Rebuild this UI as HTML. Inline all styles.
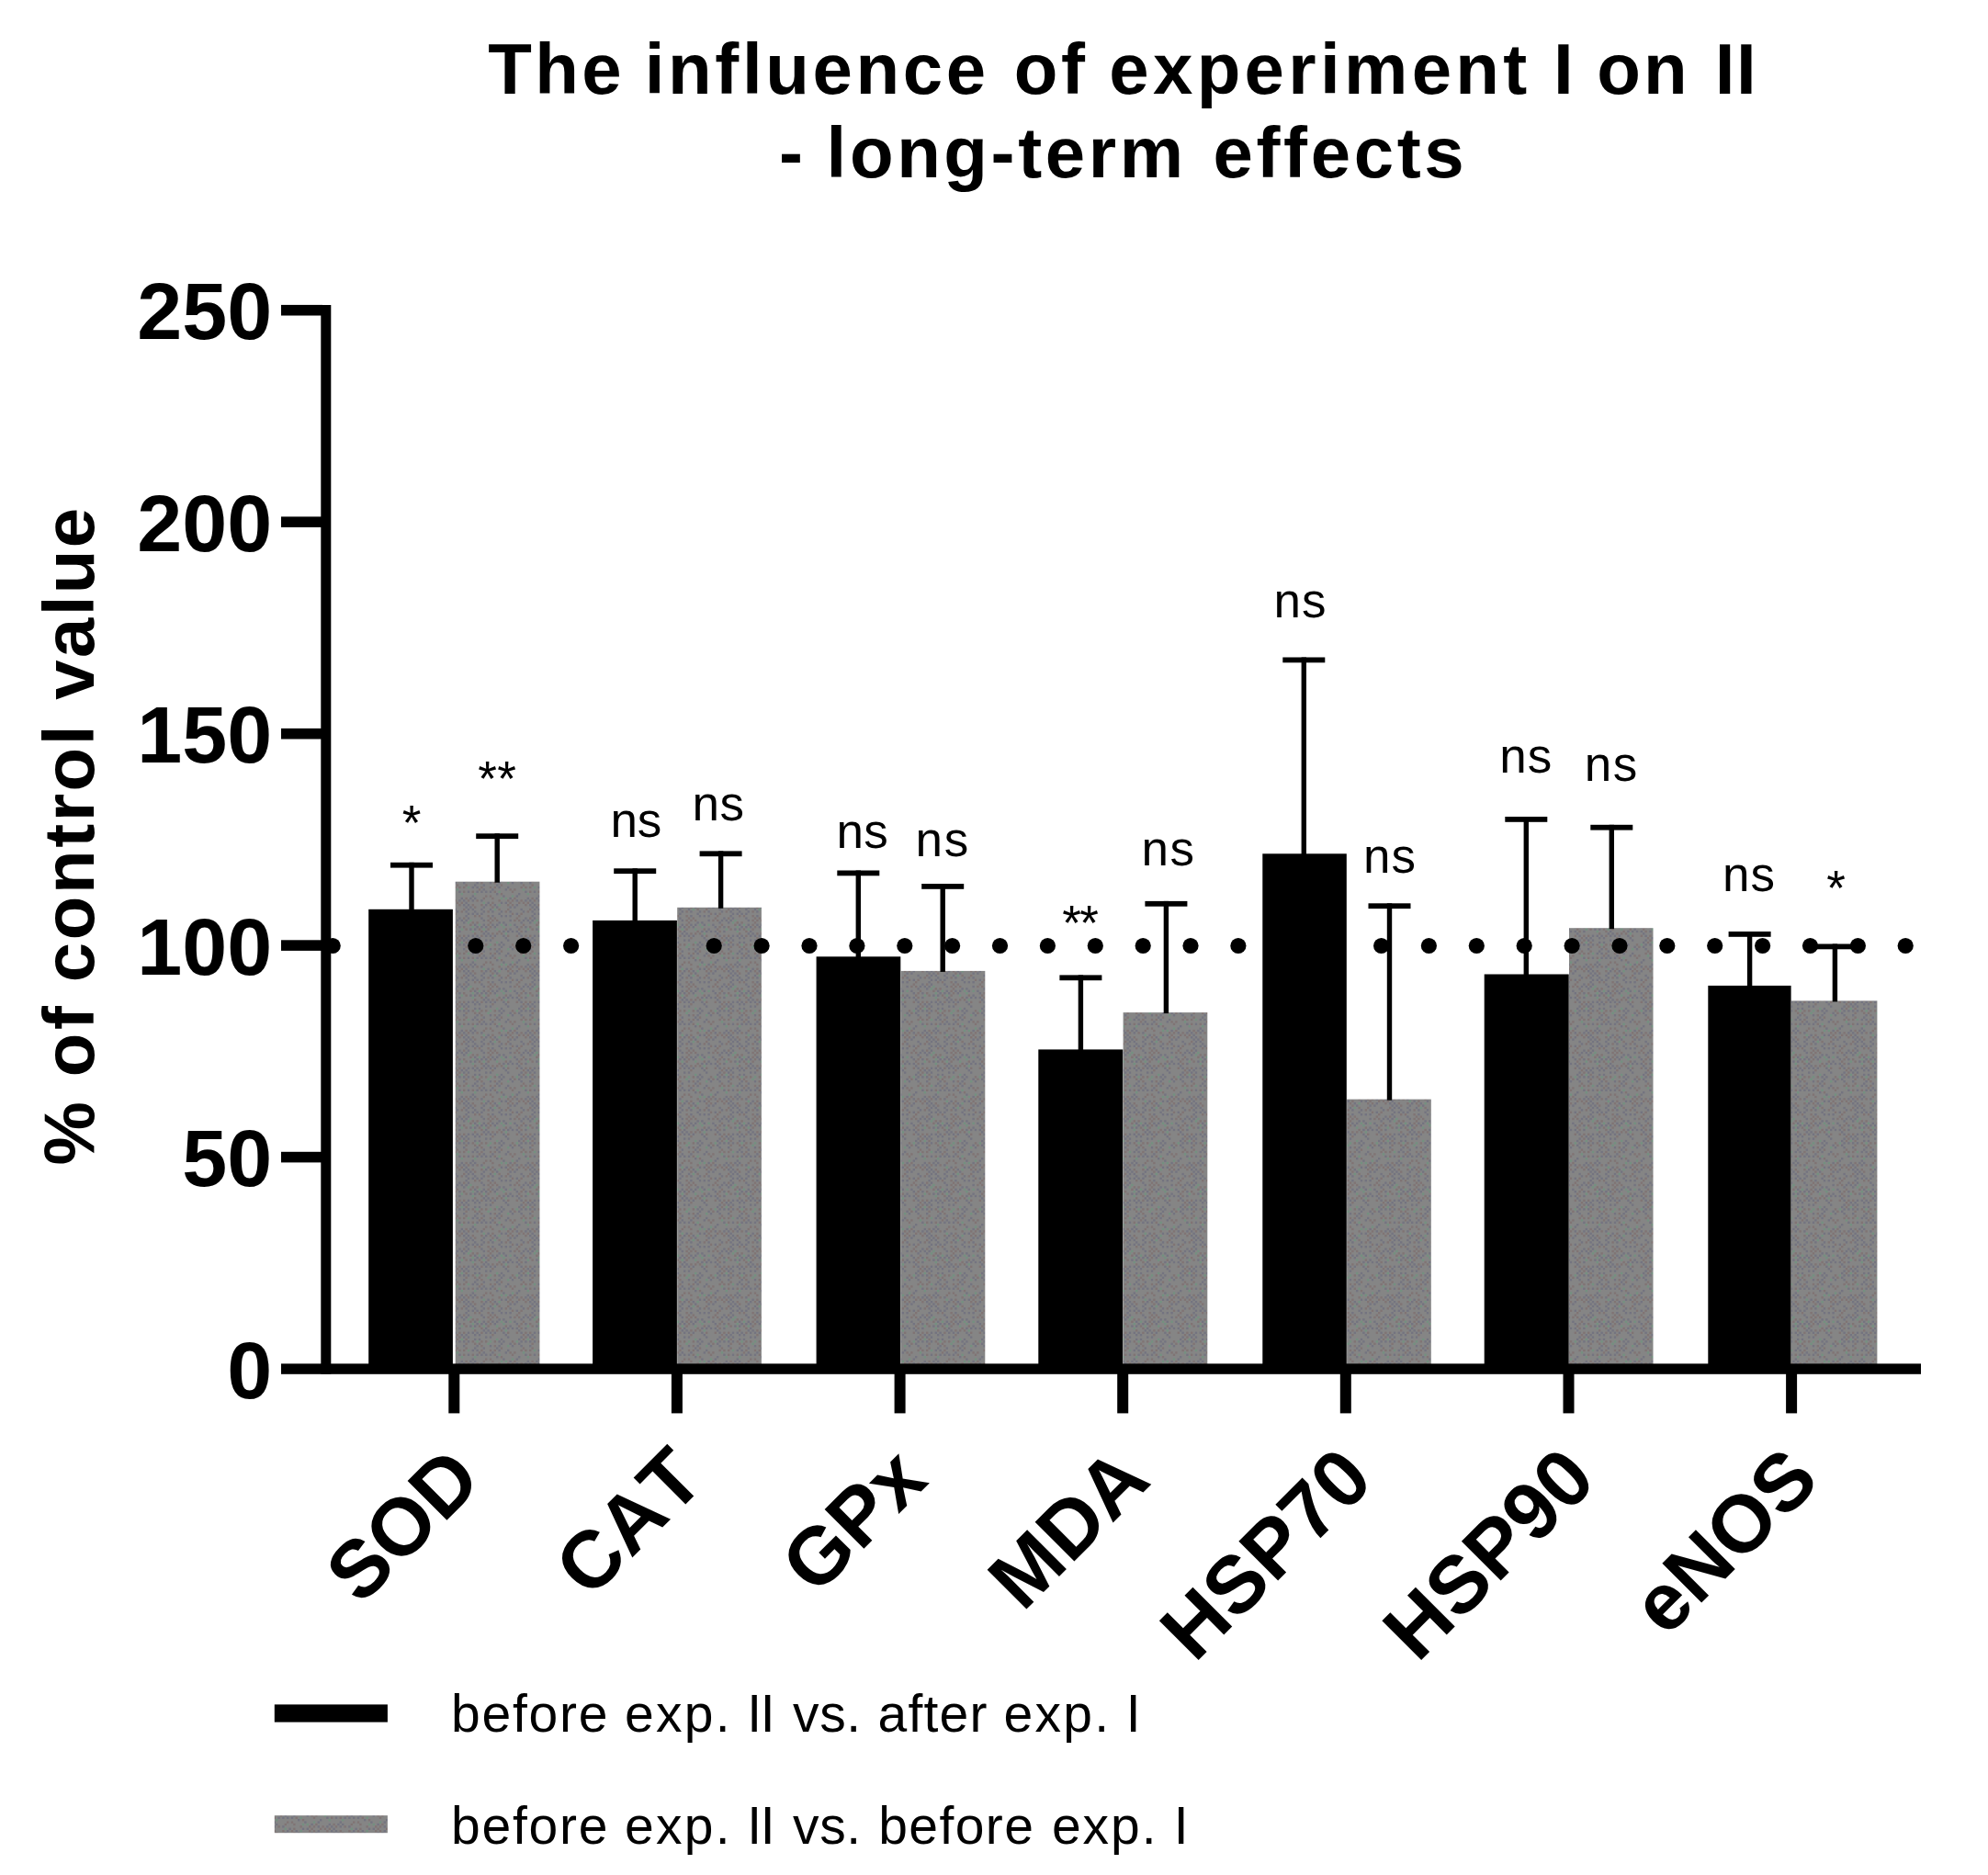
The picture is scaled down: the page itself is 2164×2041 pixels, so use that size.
<!DOCTYPE html>
<html lang="en"><head><meta charset="utf-8"><title>The influence of experiment I on II - long-term effects</title>
<style>
html,body{margin:0;padding:0;background:#fff;}
body{width:2164px;height:2041px;overflow:hidden;}
svg{display:block}
text{font-family:'Liberation Sans', Arial, Helvetica, sans-serif;fill:#000;white-space:pre;font-kerning:none}
.b{font-weight:bold}
</style></head><body>
<svg width="2164" height="2041" viewBox="0 0 2164 2041">
<rect width="2164" height="2041" fill="#fff"/>
<defs><pattern id="dg" patternUnits="userSpaceOnUse" width="72.0" height="72.0"><rect width="72.0" height="72.0" fill="#858585"/><rect x="0.0" y="0.0" width="2.4" height="2.4" fill="#807474"/><rect x="9.6" y="0.0" width="2.4" height="2.4" fill="#749080"/><rect x="14.4" y="0.0" width="2.4" height="2.4" fill="#747480"/><rect x="19.2" y="0.0" width="2.4" height="2.4" fill="#747480"/><rect x="24.0" y="0.0" width="2.4" height="2.4" fill="#747480"/><rect x="28.8" y="0.0" width="2.4" height="2.4" fill="#807474"/><rect x="33.6" y="0.0" width="2.4" height="2.4" fill="#747480"/><rect x="43.2" y="0.0" width="2.4" height="2.4" fill="#749080"/><rect x="57.6" y="0.0" width="2.4" height="2.4" fill="#747480"/><rect x="62.4" y="0.0" width="2.4" height="2.4" fill="#807474"/><rect x="67.2" y="0.0" width="2.4" height="2.4" fill="#747480"/><rect x="2.4" y="2.4" width="2.4" height="2.4" fill="#807474"/><rect x="7.2" y="2.4" width="2.4" height="2.4" fill="#747480"/><rect x="12.0" y="2.4" width="2.4" height="2.4" fill="#747480"/><rect x="16.8" y="2.4" width="2.4" height="2.4" fill="#807474"/><rect x="21.6" y="2.4" width="2.4" height="2.4" fill="#749080"/><rect x="26.4" y="2.4" width="2.4" height="2.4" fill="#807474"/><rect x="36.0" y="2.4" width="2.4" height="2.4" fill="#749080"/><rect x="45.6" y="2.4" width="2.4" height="2.4" fill="#807474"/><rect x="50.4" y="2.4" width="2.4" height="2.4" fill="#747480"/><rect x="60.0" y="2.4" width="2.4" height="2.4" fill="#807474"/><rect x="69.6" y="2.4" width="2.4" height="2.4" fill="#749080"/><rect x="9.6" y="4.8" width="2.4" height="2.4" fill="#749080"/><rect x="19.2" y="4.8" width="2.4" height="2.4" fill="#807474"/><rect x="24.0" y="4.8" width="2.4" height="2.4" fill="#747480"/><rect x="38.4" y="4.8" width="2.4" height="2.4" fill="#807474"/><rect x="43.2" y="4.8" width="2.4" height="2.4" fill="#747480"/><rect x="48.0" y="4.8" width="2.4" height="2.4" fill="#747480"/><rect x="52.8" y="4.8" width="2.4" height="2.4" fill="#747480"/><rect x="57.6" y="4.8" width="2.4" height="2.4" fill="#747480"/><rect x="62.4" y="4.8" width="2.4" height="2.4" fill="#807474"/><rect x="67.2" y="4.8" width="2.4" height="2.4" fill="#747480"/><rect x="12.0" y="7.2" width="2.4" height="2.4" fill="#807474"/><rect x="21.6" y="7.2" width="2.4" height="2.4" fill="#747480"/><rect x="26.4" y="7.2" width="2.4" height="2.4" fill="#747480"/><rect x="31.2" y="7.2" width="2.4" height="2.4" fill="#807474"/><rect x="36.0" y="7.2" width="2.4" height="2.4" fill="#807474"/><rect x="40.8" y="7.2" width="2.4" height="2.4" fill="#807474"/><rect x="45.6" y="7.2" width="2.4" height="2.4" fill="#749080"/><rect x="60.0" y="7.2" width="2.4" height="2.4" fill="#747480"/><rect x="0.0" y="9.6" width="2.4" height="2.4" fill="#807474"/><rect x="4.8" y="9.6" width="2.4" height="2.4" fill="#747480"/><rect x="9.6" y="9.6" width="2.4" height="2.4" fill="#747480"/><rect x="14.4" y="9.6" width="2.4" height="2.4" fill="#747480"/><rect x="19.2" y="9.6" width="2.4" height="2.4" fill="#807474"/><rect x="24.0" y="9.6" width="2.4" height="2.4" fill="#747480"/><rect x="28.8" y="9.6" width="2.4" height="2.4" fill="#747480"/><rect x="33.6" y="9.6" width="2.4" height="2.4" fill="#747480"/><rect x="43.2" y="9.6" width="2.4" height="2.4" fill="#747480"/><rect x="48.0" y="9.6" width="2.4" height="2.4" fill="#807474"/><rect x="57.6" y="9.6" width="2.4" height="2.4" fill="#807474"/><rect x="62.4" y="9.6" width="2.4" height="2.4" fill="#747480"/><rect x="67.2" y="9.6" width="2.4" height="2.4" fill="#807474"/><rect x="2.4" y="12.0" width="2.4" height="2.4" fill="#747480"/><rect x="12.0" y="12.0" width="2.4" height="2.4" fill="#747480"/><rect x="16.8" y="12.0" width="2.4" height="2.4" fill="#747480"/><rect x="31.2" y="12.0" width="2.4" height="2.4" fill="#807474"/><rect x="45.6" y="12.0" width="2.4" height="2.4" fill="#747480"/><rect x="64.8" y="12.0" width="2.4" height="2.4" fill="#807474"/><rect x="69.6" y="12.0" width="2.4" height="2.4" fill="#747480"/><rect x="0.0" y="14.4" width="2.4" height="2.4" fill="#747480"/><rect x="4.8" y="14.4" width="2.4" height="2.4" fill="#747480"/><rect x="24.0" y="14.4" width="2.4" height="2.4" fill="#747480"/><rect x="28.8" y="14.4" width="2.4" height="2.4" fill="#747480"/><rect x="48.0" y="14.4" width="2.4" height="2.4" fill="#747480"/><rect x="62.4" y="14.4" width="2.4" height="2.4" fill="#747480"/><rect x="67.2" y="14.4" width="2.4" height="2.4" fill="#807474"/><rect x="2.4" y="16.8" width="2.4" height="2.4" fill="#807474"/><rect x="12.0" y="16.8" width="2.4" height="2.4" fill="#747480"/><rect x="16.8" y="16.8" width="2.4" height="2.4" fill="#747480"/><rect x="36.0" y="16.8" width="2.4" height="2.4" fill="#749080"/><rect x="40.8" y="16.8" width="2.4" height="2.4" fill="#747480"/><rect x="60.0" y="16.8" width="2.4" height="2.4" fill="#747480"/><rect x="64.8" y="16.8" width="2.4" height="2.4" fill="#807474"/><rect x="69.6" y="16.8" width="2.4" height="2.4" fill="#749080"/><rect x="0.0" y="19.2" width="2.4" height="2.4" fill="#747480"/><rect x="4.8" y="19.2" width="2.4" height="2.4" fill="#747480"/><rect x="9.6" y="19.2" width="2.4" height="2.4" fill="#807474"/><rect x="14.4" y="19.2" width="2.4" height="2.4" fill="#749080"/><rect x="19.2" y="19.2" width="2.4" height="2.4" fill="#807474"/><rect x="24.0" y="19.2" width="2.4" height="2.4" fill="#807474"/><rect x="28.8" y="19.2" width="2.4" height="2.4" fill="#749080"/><rect x="33.6" y="19.2" width="2.4" height="2.4" fill="#807474"/><rect x="38.4" y="19.2" width="2.4" height="2.4" fill="#747480"/><rect x="43.2" y="19.2" width="2.4" height="2.4" fill="#747480"/><rect x="52.8" y="19.2" width="2.4" height="2.4" fill="#807474"/><rect x="57.6" y="19.2" width="2.4" height="2.4" fill="#749080"/><rect x="62.4" y="19.2" width="2.4" height="2.4" fill="#747480"/><rect x="67.2" y="19.2" width="2.4" height="2.4" fill="#747480"/><rect x="2.4" y="21.6" width="2.4" height="2.4" fill="#807474"/><rect x="12.0" y="21.6" width="2.4" height="2.4" fill="#807474"/><rect x="16.8" y="21.6" width="2.4" height="2.4" fill="#807474"/><rect x="26.4" y="21.6" width="2.4" height="2.4" fill="#749080"/><rect x="40.8" y="21.6" width="2.4" height="2.4" fill="#747480"/><rect x="50.4" y="21.6" width="2.4" height="2.4" fill="#747480"/><rect x="55.2" y="21.6" width="2.4" height="2.4" fill="#807474"/><rect x="60.0" y="21.6" width="2.4" height="2.4" fill="#747480"/><rect x="0.0" y="24.0" width="2.4" height="2.4" fill="#747480"/><rect x="14.4" y="24.0" width="2.4" height="2.4" fill="#747480"/><rect x="19.2" y="24.0" width="2.4" height="2.4" fill="#807474"/><rect x="28.8" y="24.0" width="2.4" height="2.4" fill="#747480"/><rect x="33.6" y="24.0" width="2.4" height="2.4" fill="#807474"/><rect x="38.4" y="24.0" width="2.4" height="2.4" fill="#747480"/><rect x="48.0" y="24.0" width="2.4" height="2.4" fill="#749080"/><rect x="52.8" y="24.0" width="2.4" height="2.4" fill="#747480"/><rect x="62.4" y="24.0" width="2.4" height="2.4" fill="#747480"/><rect x="2.4" y="26.4" width="2.4" height="2.4" fill="#807474"/><rect x="12.0" y="26.4" width="2.4" height="2.4" fill="#747480"/><rect x="21.6" y="26.4" width="2.4" height="2.4" fill="#747480"/><rect x="36.0" y="26.4" width="2.4" height="2.4" fill="#747480"/><rect x="40.8" y="26.4" width="2.4" height="2.4" fill="#807474"/><rect x="64.8" y="26.4" width="2.4" height="2.4" fill="#807474"/><rect x="0.0" y="28.8" width="2.4" height="2.4" fill="#807474"/><rect x="4.8" y="28.8" width="2.4" height="2.4" fill="#749080"/><rect x="9.6" y="28.8" width="2.4" height="2.4" fill="#747480"/><rect x="14.4" y="28.8" width="2.4" height="2.4" fill="#747480"/><rect x="19.2" y="28.8" width="2.4" height="2.4" fill="#807474"/><rect x="28.8" y="28.8" width="2.4" height="2.4" fill="#807474"/><rect x="33.6" y="28.8" width="2.4" height="2.4" fill="#807474"/><rect x="38.4" y="28.8" width="2.4" height="2.4" fill="#747480"/><rect x="48.0" y="28.8" width="2.4" height="2.4" fill="#747480"/><rect x="62.4" y="28.8" width="2.4" height="2.4" fill="#807474"/><rect x="67.2" y="28.8" width="2.4" height="2.4" fill="#807474"/><rect x="16.8" y="31.2" width="2.4" height="2.4" fill="#807474"/><rect x="21.6" y="31.2" width="2.4" height="2.4" fill="#747480"/><rect x="31.2" y="31.2" width="2.4" height="2.4" fill="#747480"/><rect x="45.6" y="31.2" width="2.4" height="2.4" fill="#747480"/><rect x="50.4" y="31.2" width="2.4" height="2.4" fill="#807474"/><rect x="55.2" y="31.2" width="2.4" height="2.4" fill="#807474"/><rect x="64.8" y="31.2" width="2.4" height="2.4" fill="#749080"/><rect x="0.0" y="33.6" width="2.4" height="2.4" fill="#807474"/><rect x="4.8" y="33.6" width="2.4" height="2.4" fill="#747480"/><rect x="9.6" y="33.6" width="2.4" height="2.4" fill="#807474"/><rect x="14.4" y="33.6" width="2.4" height="2.4" fill="#747480"/><rect x="19.2" y="33.6" width="2.4" height="2.4" fill="#747480"/><rect x="24.0" y="33.6" width="2.4" height="2.4" fill="#747480"/><rect x="28.8" y="33.6" width="2.4" height="2.4" fill="#747480"/><rect x="33.6" y="33.6" width="2.4" height="2.4" fill="#807474"/><rect x="38.4" y="33.6" width="2.4" height="2.4" fill="#749080"/><rect x="52.8" y="33.6" width="2.4" height="2.4" fill="#807474"/><rect x="67.2" y="33.6" width="2.4" height="2.4" fill="#747480"/><rect x="12.0" y="36.0" width="2.4" height="2.4" fill="#749080"/><rect x="36.0" y="36.0" width="2.4" height="2.4" fill="#747480"/><rect x="40.8" y="36.0" width="2.4" height="2.4" fill="#807474"/><rect x="60.0" y="36.0" width="2.4" height="2.4" fill="#747480"/><rect x="69.6" y="36.0" width="2.4" height="2.4" fill="#749080"/><rect x="9.6" y="38.4" width="2.4" height="2.4" fill="#747480"/><rect x="24.0" y="38.4" width="2.4" height="2.4" fill="#807474"/><rect x="28.8" y="38.4" width="2.4" height="2.4" fill="#807474"/><rect x="43.2" y="38.4" width="2.4" height="2.4" fill="#747480"/><rect x="52.8" y="38.4" width="2.4" height="2.4" fill="#749080"/><rect x="57.6" y="38.4" width="2.4" height="2.4" fill="#747480"/><rect x="2.4" y="40.8" width="2.4" height="2.4" fill="#807474"/><rect x="7.2" y="40.8" width="2.4" height="2.4" fill="#747480"/><rect x="12.0" y="40.8" width="2.4" height="2.4" fill="#747480"/><rect x="21.6" y="40.8" width="2.4" height="2.4" fill="#807474"/><rect x="31.2" y="40.8" width="2.4" height="2.4" fill="#807474"/><rect x="40.8" y="40.8" width="2.4" height="2.4" fill="#749080"/><rect x="45.6" y="40.8" width="2.4" height="2.4" fill="#749080"/><rect x="50.4" y="40.8" width="2.4" height="2.4" fill="#747480"/><rect x="55.2" y="40.8" width="2.4" height="2.4" fill="#807474"/><rect x="69.6" y="40.8" width="2.4" height="2.4" fill="#747480"/><rect x="0.0" y="43.2" width="2.4" height="2.4" fill="#747480"/><rect x="4.8" y="43.2" width="2.4" height="2.4" fill="#807474"/><rect x="9.6" y="43.2" width="2.4" height="2.4" fill="#747480"/><rect x="14.4" y="43.2" width="2.4" height="2.4" fill="#807474"/><rect x="19.2" y="43.2" width="2.4" height="2.4" fill="#747480"/><rect x="38.4" y="43.2" width="2.4" height="2.4" fill="#807474"/><rect x="48.0" y="43.2" width="2.4" height="2.4" fill="#807474"/><rect x="52.8" y="43.2" width="2.4" height="2.4" fill="#807474"/><rect x="57.6" y="43.2" width="2.4" height="2.4" fill="#747480"/><rect x="62.4" y="43.2" width="2.4" height="2.4" fill="#807474"/><rect x="67.2" y="43.2" width="2.4" height="2.4" fill="#747480"/><rect x="2.4" y="45.6" width="2.4" height="2.4" fill="#747480"/><rect x="21.6" y="45.6" width="2.4" height="2.4" fill="#749080"/><rect x="26.4" y="45.6" width="2.4" height="2.4" fill="#747480"/><rect x="31.2" y="45.6" width="2.4" height="2.4" fill="#807474"/><rect x="40.8" y="45.6" width="2.4" height="2.4" fill="#747480"/><rect x="45.6" y="45.6" width="2.4" height="2.4" fill="#747480"/><rect x="50.4" y="45.6" width="2.4" height="2.4" fill="#807474"/><rect x="60.0" y="45.6" width="2.4" height="2.4" fill="#807474"/><rect x="64.8" y="45.6" width="2.4" height="2.4" fill="#807474"/><rect x="69.6" y="45.6" width="2.4" height="2.4" fill="#807474"/><rect x="0.0" y="48.0" width="2.4" height="2.4" fill="#747480"/><rect x="4.8" y="48.0" width="2.4" height="2.4" fill="#747480"/><rect x="9.6" y="48.0" width="2.4" height="2.4" fill="#807474"/><rect x="19.2" y="48.0" width="2.4" height="2.4" fill="#807474"/><rect x="24.0" y="48.0" width="2.4" height="2.4" fill="#747480"/><rect x="28.8" y="48.0" width="2.4" height="2.4" fill="#807474"/><rect x="33.6" y="48.0" width="2.4" height="2.4" fill="#747480"/><rect x="38.4" y="48.0" width="2.4" height="2.4" fill="#749080"/><rect x="48.0" y="48.0" width="2.4" height="2.4" fill="#807474"/><rect x="52.8" y="48.0" width="2.4" height="2.4" fill="#807474"/><rect x="57.6" y="48.0" width="2.4" height="2.4" fill="#747480"/><rect x="67.2" y="48.0" width="2.4" height="2.4" fill="#807474"/><rect x="2.4" y="50.4" width="2.4" height="2.4" fill="#747480"/><rect x="7.2" y="50.4" width="2.4" height="2.4" fill="#747480"/><rect x="12.0" y="50.4" width="2.4" height="2.4" fill="#807474"/><rect x="21.6" y="50.4" width="2.4" height="2.4" fill="#747480"/><rect x="31.2" y="50.4" width="2.4" height="2.4" fill="#807474"/><rect x="36.0" y="50.4" width="2.4" height="2.4" fill="#747480"/><rect x="50.4" y="50.4" width="2.4" height="2.4" fill="#747480"/><rect x="55.2" y="50.4" width="2.4" height="2.4" fill="#747480"/><rect x="0.0" y="52.8" width="2.4" height="2.4" fill="#807474"/><rect x="4.8" y="52.8" width="2.4" height="2.4" fill="#747480"/><rect x="9.6" y="52.8" width="2.4" height="2.4" fill="#747480"/><rect x="19.2" y="52.8" width="2.4" height="2.4" fill="#747480"/><rect x="28.8" y="52.8" width="2.4" height="2.4" fill="#747480"/><rect x="33.6" y="52.8" width="2.4" height="2.4" fill="#749080"/><rect x="38.4" y="52.8" width="2.4" height="2.4" fill="#807474"/><rect x="48.0" y="52.8" width="2.4" height="2.4" fill="#807474"/><rect x="62.4" y="52.8" width="2.4" height="2.4" fill="#747480"/><rect x="2.4" y="55.2" width="2.4" height="2.4" fill="#747480"/><rect x="12.0" y="55.2" width="2.4" height="2.4" fill="#747480"/><rect x="21.6" y="55.2" width="2.4" height="2.4" fill="#747480"/><rect x="26.4" y="55.2" width="2.4" height="2.4" fill="#807474"/><rect x="31.2" y="55.2" width="2.4" height="2.4" fill="#747480"/><rect x="40.8" y="55.2" width="2.4" height="2.4" fill="#747480"/><rect x="45.6" y="55.2" width="2.4" height="2.4" fill="#807474"/><rect x="50.4" y="55.2" width="2.4" height="2.4" fill="#747480"/><rect x="64.8" y="55.2" width="2.4" height="2.4" fill="#747480"/><rect x="69.6" y="55.2" width="2.4" height="2.4" fill="#807474"/><rect x="4.8" y="57.6" width="2.4" height="2.4" fill="#747480"/><rect x="9.6" y="57.6" width="2.4" height="2.4" fill="#747480"/><rect x="14.4" y="57.6" width="2.4" height="2.4" fill="#747480"/><rect x="19.2" y="57.6" width="2.4" height="2.4" fill="#747480"/><rect x="38.4" y="57.6" width="2.4" height="2.4" fill="#747480"/><rect x="52.8" y="57.6" width="2.4" height="2.4" fill="#807474"/><rect x="57.6" y="57.6" width="2.4" height="2.4" fill="#747480"/><rect x="62.4" y="57.6" width="2.4" height="2.4" fill="#807474"/><rect x="2.4" y="60.0" width="2.4" height="2.4" fill="#747480"/><rect x="12.0" y="60.0" width="2.4" height="2.4" fill="#807474"/><rect x="16.8" y="60.0" width="2.4" height="2.4" fill="#807474"/><rect x="26.4" y="60.0" width="2.4" height="2.4" fill="#807474"/><rect x="31.2" y="60.0" width="2.4" height="2.4" fill="#747480"/><rect x="40.8" y="60.0" width="2.4" height="2.4" fill="#747480"/><rect x="45.6" y="60.0" width="2.4" height="2.4" fill="#747480"/><rect x="50.4" y="60.0" width="2.4" height="2.4" fill="#747480"/><rect x="60.0" y="60.0" width="2.4" height="2.4" fill="#807474"/><rect x="0.0" y="62.4" width="2.4" height="2.4" fill="#807474"/><rect x="4.8" y="62.4" width="2.4" height="2.4" fill="#747480"/><rect x="19.2" y="62.4" width="2.4" height="2.4" fill="#747480"/><rect x="28.8" y="62.4" width="2.4" height="2.4" fill="#807474"/><rect x="33.6" y="62.4" width="2.4" height="2.4" fill="#807474"/><rect x="57.6" y="62.4" width="2.4" height="2.4" fill="#807474"/><rect x="67.2" y="62.4" width="2.4" height="2.4" fill="#747480"/><rect x="2.4" y="64.8" width="2.4" height="2.4" fill="#747480"/><rect x="7.2" y="64.8" width="2.4" height="2.4" fill="#749080"/><rect x="21.6" y="64.8" width="2.4" height="2.4" fill="#747480"/><rect x="26.4" y="64.8" width="2.4" height="2.4" fill="#807474"/><rect x="31.2" y="64.8" width="2.4" height="2.4" fill="#807474"/><rect x="36.0" y="64.8" width="2.4" height="2.4" fill="#807474"/><rect x="50.4" y="64.8" width="2.4" height="2.4" fill="#747480"/><rect x="55.2" y="64.8" width="2.4" height="2.4" fill="#807474"/><rect x="60.0" y="64.8" width="2.4" height="2.4" fill="#807474"/><rect x="64.8" y="64.8" width="2.4" height="2.4" fill="#747480"/><rect x="69.6" y="64.8" width="2.4" height="2.4" fill="#747480"/><rect x="0.0" y="67.2" width="2.4" height="2.4" fill="#747480"/><rect x="4.8" y="67.2" width="2.4" height="2.4" fill="#749080"/><rect x="9.6" y="67.2" width="2.4" height="2.4" fill="#807474"/><rect x="14.4" y="67.2" width="2.4" height="2.4" fill="#807474"/><rect x="28.8" y="67.2" width="2.4" height="2.4" fill="#807474"/><rect x="38.4" y="67.2" width="2.4" height="2.4" fill="#747480"/><rect x="43.2" y="67.2" width="2.4" height="2.4" fill="#747480"/><rect x="62.4" y="67.2" width="2.4" height="2.4" fill="#747480"/><rect x="7.2" y="69.6" width="2.4" height="2.4" fill="#807474"/><rect x="12.0" y="69.6" width="2.4" height="2.4" fill="#747480"/><rect x="16.8" y="69.6" width="2.4" height="2.4" fill="#749080"/><rect x="21.6" y="69.6" width="2.4" height="2.4" fill="#747480"/><rect x="26.4" y="69.6" width="2.4" height="2.4" fill="#807474"/><rect x="31.2" y="69.6" width="2.4" height="2.4" fill="#747480"/><rect x="36.0" y="69.6" width="2.4" height="2.4" fill="#747480"/><rect x="40.8" y="69.6" width="2.4" height="2.4" fill="#749080"/><rect x="45.6" y="69.6" width="2.4" height="2.4" fill="#747480"/><rect x="50.4" y="69.6" width="2.4" height="2.4" fill="#749080"/><rect x="55.2" y="69.6" width="2.4" height="2.4" fill="#747480"/><rect x="64.8" y="69.6" width="2.4" height="2.4" fill="#807474"/></pattern></defs>
<g id="title">
<text class="b" font-size="78" y="102"><tspan x="531.3" letter-spacing="3.39">The </tspan><tspan x="701.73" letter-spacing="3.63">influence </tspan><tspan x="1103.86" letter-spacing="3.58">of </tspan><tspan x="1207.26" letter-spacing="4.32">experiment </tspan><tspan x="1691.03" letter-spacing="0">I </tspan><tspan x="1738.36" letter-spacing="3.02">on </tspan><tspan x="1866.73" letter-spacing="1.54">II</tspan></text>
<text class="b" font-size="78" y="193"><tspan x="848.06" letter-spacing="0">- </tspan><tspan x="899.62" letter-spacing="3.6">long-term </tspan><tspan x="1320.46" letter-spacing="3.64">effects</tspan></text>
</g>
<g id="legend-text">
<text font-size="57" y="1884.9"><tspan x="490.94" letter-spacing="1.77">before </tspan><tspan x="680.12" letter-spacing="2.23">exp. </tspan><tspan x="813.25" letter-spacing="-1.27">II </tspan><tspan x="863.0" letter-spacing="0.66">vs. </tspan><tspan x="955.52" letter-spacing="1.2">after </tspan><tspan x="1092.62" letter-spacing="2.23">exp. </tspan><tspan x="1225.75" letter-spacing="0">I</tspan></text>
<text font-size="57" y="2006.6"><tspan x="490.94" letter-spacing="1.77">before </tspan><tspan x="680.12" letter-spacing="2.23">exp. </tspan><tspan x="813.25" letter-spacing="-1.27">II </tspan><tspan x="863.0" letter-spacing="0.66">vs. </tspan><tspan x="956.24" letter-spacing="1.41">before </tspan><tspan x="1144.92" letter-spacing="1.96">exp. </tspan><tspan x="1277.75" letter-spacing="0">I</tspan></text>
</g>
<g id="ylabel" transform="translate(102,0) rotate(-90)">
<text class="b" font-size="78" y="0"><tspan x="-1268.62" letter-spacing="0">% </tspan><tspan x="-1172.14" letter-spacing="3.58">of </tspan><tspan x="-1069.14" letter-spacing="2.55">control </tspan><tspan x="-761.7" letter-spacing="2.32">value</tspan></text>
</g>
<g id="yticks">
<text class="b" x="296.1" y="1521.6" font-size="88" text-anchor="end">0</text>
<rect x="306" y="1253.8" width="45" height="11.6"/>
<text class="b" x="296.1" y="1291.1" font-size="88" text-anchor="end">50</text>
<rect x="306" y="1023.3" width="45" height="11.6"/>
<text class="b" x="296.1" y="1060.6" font-size="88" text-anchor="end">100</text>
<rect x="306" y="792.9" width="45" height="11.6"/>
<text class="b" x="296.1" y="830.2" font-size="88" text-anchor="end">150</text>
<rect x="306" y="562.4" width="45" height="11.6"/>
<text class="b" x="296.1" y="599.7" font-size="88" text-anchor="end">200</text>
<rect x="306" y="331.9" width="45" height="11.6"/>
<text class="b" x="296.1" y="369.2" font-size="88" text-anchor="end">250</text>
</g>
<g id="bars">
<rect x="401.2" y="989.8" width="91.7" height="496.5" fill="#000"/>
<rect x="495.7" y="959.7" width="91.7" height="526.6" fill="url(#dg)"/>
<rect x="445.3" y="938.8" width="5.4" height="52.0"/>
<rect x="425.0" y="938.8" width="46" height="5.8"/>
<text x="437.87" y="914.0" font-size="53" letter-spacing="0">*</text>
<rect x="538.5" y="907.3" width="5.4" height="53.4"/>
<rect x="518.2" y="907.3" width="46" height="5.8"/>
<text x="520.17" y="866.2" font-size="53" letter-spacing="0.43">**</text>
<rect x="645.1" y="1001.9" width="91.8" height="484.4" fill="#000"/>
<rect x="737.2" y="987.8" width="91.7" height="498.5" fill="url(#dg)"/>
<rect x="688.5" y="945.3" width="5.4" height="57.6"/>
<rect x="668.2" y="945.3" width="46" height="5.8"/>
<text x="664.39" y="911.0" font-size="53" letter-spacing="-0.11">ns</text>
<rect x="781.9" y="926.4" width="5.4" height="62.4"/>
<rect x="761.6" y="926.4" width="46" height="5.8"/>
<text x="753.59" y="892.7" font-size="53" letter-spacing="0.39">ns</text>
<rect x="888.6" y="1041.3" width="91.7" height="445.0" fill="#000"/>
<rect x="980.6" y="1056.9" width="91.7" height="429.4" fill="url(#dg)"/>
<rect x="931.6" y="947.5" width="5.4" height="94.8"/>
<rect x="911.3" y="947.5" width="46" height="5.8"/>
<text x="910.39" y="923.3" font-size="53" letter-spacing="0.39">ns</text>
<rect x="1023.5" y="962.0" width="5.4" height="95.9"/>
<rect x="1003.2" y="962.0" width="46" height="5.8"/>
<text x="996.39" y="931.6" font-size="53" letter-spacing="1.89">ns</text>
<rect x="1130.3" y="1142.4" width="92.0" height="343.9" fill="#000"/>
<rect x="1222.6" y="1102.1" width="91.7" height="384.2" fill="url(#dg)"/>
<rect x="1173.7" y="1061.4" width="5.4" height="82.0"/>
<rect x="1153.4" y="1061.4" width="46" height="5.8"/>
<text x="1156.27" y="1022.5" font-size="53" letter-spacing="-1.57">**</text>
<rect x="1266.7" y="980.9" width="5.4" height="122.2"/>
<rect x="1246.4" y="980.9" width="46" height="5.8"/>
<text x="1242.39" y="942.1" font-size="53" letter-spacing="1.59">ns</text>
<rect x="1374.3" y="929.3" width="91.5" height="557.0" fill="#000"/>
<rect x="1466.1" y="1196.6" width="91.7" height="289.7" fill="url(#dg)"/>
<rect x="1416.6" y="715.5" width="5.4" height="214.8"/>
<rect x="1396.3" y="715.5" width="46" height="5.8"/>
<text x="1386.39" y="672.4" font-size="53" letter-spacing="1.19">ns</text>
<rect x="1509.8" y="983.3" width="5.4" height="214.3"/>
<rect x="1489.5" y="983.3" width="46" height="5.8"/>
<text x="1483.99" y="950.4" font-size="53" letter-spacing="0.99">ns</text>
<rect x="1615.7" y="1060.5" width="92.0" height="425.8" fill="#000"/>
<rect x="1708.0" y="1010.2" width="91.5" height="476.1" fill="url(#dg)"/>
<rect x="1658.6" y="889.0" width="5.4" height="172.5"/>
<rect x="1638.3" y="889.0" width="46" height="5.8"/>
<text x="1632.19" y="840.7" font-size="53" letter-spacing="1.09">ns</text>
<rect x="1751.6" y="897.8" width="5.4" height="113.4"/>
<rect x="1731.3" y="897.8" width="46" height="5.8"/>
<text x="1724.69" y="850.3" font-size="53" letter-spacing="1.69">ns</text>
<rect x="1859.3" y="1072.9" width="90.3" height="413.4" fill="#000"/>
<rect x="1949.9" y="1089.4" width="93.5" height="396.9" fill="url(#dg)"/>
<rect x="1901.9" y="1014.0" width="5.4" height="59.9"/>
<rect x="1881.6" y="1014.0" width="46" height="5.8"/>
<text x="1875.09" y="970.4" font-size="53" letter-spacing="0.89">ns</text>
<rect x="1994.7" y="1027.5" width="5.4" height="62.9"/>
<rect x="1974.4" y="1027.5" width="46" height="5.8"/>
<text x="1988.17" y="984.8" font-size="53" letter-spacing="0">*</text>
</g>
<g id="dots">
<circle cx="362.2" cy="1029.5" r="8.6"/>
<circle cx="414.1" cy="1029.5" r="8.6"/>
<circle cx="466.0" cy="1029.5" r="8.6"/>
<circle cx="517.8" cy="1029.5" r="8.6"/>
<circle cx="569.7" cy="1029.5" r="8.6"/>
<circle cx="621.6" cy="1029.5" r="8.6"/>
<circle cx="673.5" cy="1029.5" r="8.6"/>
<circle cx="725.4" cy="1029.5" r="8.6"/>
<circle cx="777.2" cy="1029.5" r="8.6"/>
<circle cx="829.1" cy="1029.5" r="8.6"/>
<circle cx="881.0" cy="1029.5" r="8.6"/>
<circle cx="932.9" cy="1029.5" r="8.6"/>
<circle cx="984.8" cy="1029.5" r="8.6"/>
<circle cx="1036.6" cy="1029.5" r="8.6"/>
<circle cx="1088.5" cy="1029.5" r="8.6"/>
<circle cx="1140.4" cy="1029.5" r="8.6"/>
<circle cx="1192.3" cy="1029.5" r="8.6"/>
<circle cx="1244.2" cy="1029.5" r="8.6"/>
<circle cx="1296.0" cy="1029.5" r="8.6"/>
<circle cx="1347.9" cy="1029.5" r="8.6"/>
<circle cx="1399.8" cy="1029.5" r="8.6"/>
<circle cx="1451.7" cy="1029.5" r="8.6"/>
<circle cx="1503.6" cy="1029.5" r="8.6"/>
<circle cx="1555.4" cy="1029.5" r="8.6"/>
<circle cx="1607.3" cy="1029.5" r="8.6"/>
<circle cx="1659.2" cy="1029.5" r="8.6"/>
<circle cx="1711.1" cy="1029.5" r="8.6"/>
<circle cx="1763.0" cy="1029.5" r="8.6"/>
<circle cx="1814.8" cy="1029.5" r="8.6"/>
<circle cx="1866.7" cy="1029.5" r="8.6"/>
<circle cx="1918.6" cy="1029.5" r="8.6"/>
<circle cx="1970.5" cy="1029.5" r="8.6"/>
<circle cx="2022.4" cy="1029.5" r="8.6"/>
<circle cx="2074.2" cy="1029.5" r="8.6"/>
</g>
<g id="axes">
<rect x="349.3" y="332" width="11" height="1163.5"/>
<rect x="306" y="1484.4" width="1785" height="11.4"/>
<rect x="488.3" y="1490" width="12" height="48.4"/>
<rect x="730.9" y="1490" width="12" height="48.4"/>
<rect x="973.6" y="1490" width="12" height="48.4"/>
<rect x="1216.2" y="1490" width="12" height="48.4"/>
<rect x="1458.8" y="1490" width="12" height="48.4"/>
<rect x="1701.5" y="1490" width="12" height="48.4"/>
<rect x="1944.1" y="1490" width="12" height="48.4"/>
</g>
<g id="xlabels">
<text class="b" transform="translate(527.1,1614.0) rotate(-45)" font-size="88" letter-spacing="0" text-anchor="end">SOD</text>
<text class="b" transform="translate(769.7,1614.0) rotate(-45)" font-size="88" letter-spacing="0" text-anchor="end">CAT</text>
<text class="b" transform="translate(1012.4,1614.0) rotate(-45)" font-size="88" letter-spacing="0" text-anchor="end">GPx</text>
<text class="b" transform="translate(1255.0,1614.0) rotate(-45)" font-size="88" letter-spacing="0" text-anchor="end">MDA</text>
<text class="b" transform="translate(1497.6,1614.0) rotate(-45)" font-size="88" letter-spacing="0" text-anchor="end">HSP70</text>
<text class="b" transform="translate(1740.2,1614.0) rotate(-45)" font-size="88" letter-spacing="0" text-anchor="end">HSP90</text>
<text class="b" transform="translate(1982.9,1614.0) rotate(-45)" font-size="88" letter-spacing="0" text-anchor="end">eNOS</text>
</g>
<g id="legend">
<rect x="298.8" y="1855.4" width="123.1" height="19.2" fill="#000"/>
<rect x="298.8" y="1976.2" width="123.1" height="19" fill="url(#dg)"/>
</g>
</svg></body></html>
